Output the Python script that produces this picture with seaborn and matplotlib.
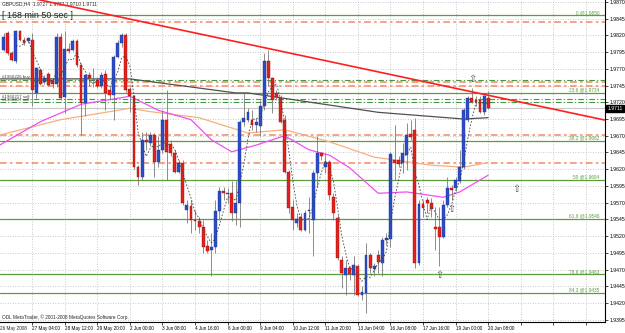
import matplotlib
matplotlib.use("Agg")
import matplotlib.pyplot as plt
import numpy as np
import pandas as pd
import seaborn as sns

# GBPUSD H4 candles, one entry per bar (26 May - 20 Jun 2008)
opens = [1.9798, 1.9823, 1.9793, 1.9781, 1.9826, 1.9813, 1.9811, 1.9813, 1.9734, 1.9768,
         1.9751, 1.9763, 1.9753, 1.9748, 1.9818, 1.9728, 1.9800, 1.9798, 1.9811, 1.9776,
         1.9719, 1.9761, 1.9753, 1.9753, 1.9744, 1.9763, 1.9739, 1.9731, 1.9788, 1.9808,
         1.9821, 1.9740, 1.9729, 1.9624, 1.9609, 1.9664, 1.9659, 1.9671, 1.9631, 1.9649,
         1.9694, 1.9658, 1.9644, 1.9616, 1.9630, 1.9559, 1.9565, 1.9544, 1.9543, 1.9534,
         1.9505, 1.9499, 1.9504, 1.9557, 1.9587, 1.9583, 1.9584, 1.9554, 1.9569, 1.9691,
         1.9694, 1.9694, 1.9686, 1.9684, 1.9714, 1.9781, 1.9756, 1.9734, 1.9726, 1.9694,
         1.9616, 1.9564, 1.9540, 1.9549, 1.9529, 1.9558, 1.9544, 1.9614, 1.9644, 1.9624,
         1.9631, 1.9579, 1.9547, 1.9485, 1.9462, 1.9472, 1.9462, 1.9475, 1.9432, 1.9435,
         1.9492, 1.9471, 1.9492, 1.9480, 1.9514, 1.9515, 1.9634, 1.9634, 1.9629, 1.9641,
         1.9673, 1.9679, 1.9480, 1.9568, 1.9574, 1.9569, 1.9534, 1.9534, 1.9519, 1.9567,
         1.9592, 1.9592, 1.9602, 1.9624, 1.9694, 1.9726, 1.9724, 1.9724, 1.9706, 1.9727]
highs = [1.9823, 1.9826, 1.9796, 1.9828, 1.9828, 1.9818, 1.9818, 1.9823, 1.9773, 1.9771,
         1.9761, 1.9766, 1.9756, 1.9823, 1.9823, 1.9826, 1.9808, 1.9814, 1.9814, 1.9778,
         1.9763, 1.9766, 1.9771, 1.9758, 1.9766, 1.9768, 1.9744, 1.9791, 1.9813, 1.9823,
         1.9823, 1.9743, 1.9731, 1.9626, 1.9676, 1.9676, 1.9675, 1.9674, 1.9669, 1.9709,
         1.9739, 1.9664, 1.9649, 1.9634, 1.9634, 1.9574, 1.9574, 1.9559, 1.9549, 1.9544,
         1.9514, 1.9524, 1.9574, 1.9594, 1.9594, 1.9592, 1.9602, 1.9602, 1.9694, 1.9734,
         1.9711, 1.9709, 1.9696, 1.9724, 1.9793, 1.9798, 1.9758, 1.9739, 1.9731, 1.9701,
         1.9619, 1.9574, 1.9554, 1.9554, 1.9559, 1.9579, 1.9619, 1.9669, 1.9646, 1.9644,
         1.9634, 1.9584, 1.9552, 1.9490, 1.9485, 1.9475, 1.9490, 1.9477, 1.9445, 1.9509,
         1.9494, 1.9480, 1.9499, 1.9519, 1.9524, 1.9646, 1.9686, 1.9639, 1.9659, 1.9689,
         1.9694, 1.9696, 1.9574, 1.9574, 1.9579, 1.9577, 1.9564, 1.9564, 1.9574, 1.9609,
         1.9597, 1.9609, 1.9649, 1.9711, 1.9729, 1.9741, 1.9729, 1.9729, 1.9734, 1.9737]
lows = [1.9796, 1.9791, 1.9781, 1.9779, 1.9811, 1.9806, 1.9808, 1.9714, 1.9726, 1.9746,
        1.9748, 1.9745, 1.9741, 1.9743, 1.9724, 1.9704, 1.9793, 1.9796, 1.9773, 1.9671,
        1.9699, 1.9744, 1.9743, 1.9741, 1.9741, 1.9709, 1.9724, 1.9694, 1.9786, 1.9803,
        1.9736, 1.9706, 1.9621, 1.9597, 1.9604, 1.9649, 1.9654, 1.9609, 1.9624, 1.9644,
        1.9604, 1.9639, 1.9614, 1.9614, 1.9567, 1.9539, 1.9524, 1.9529, 1.9524, 1.9494,
        1.9494, 1.9460, 1.9494, 1.9544, 1.9574, 1.9569, 1.9542, 1.9537, 1.9534, 1.9684,
        1.9691, 1.9679, 1.9676, 1.9669, 1.9709, 1.9744, 1.9704, 1.9724, 1.9689, 1.9614,
        1.9554, 1.9529, 1.9534, 1.9527, 1.9527, 1.9524, 1.9490, 1.9594, 1.9634, 1.9614,
        1.9574, 1.9544, 1.9485, 1.9442, 1.9432, 1.9455, 1.9432, 1.9430, 1.9425, 1.9405,
        1.9465, 1.9460, 1.9465, 1.9460, 1.9507, 1.9504, 1.9604, 1.9624, 1.9614, 1.9619,
        1.9664, 1.9472, 1.9477, 1.9549, 1.9554, 1.9549, 1.9499, 1.9475, 1.9517, 1.9564,
        1.9574, 1.9587, 1.9599, 1.9621, 1.9691, 1.9719, 1.9714, 1.9704, 1.9701, 1.9710]
closes = [1.9818, 1.9793, 1.9783, 1.9826, 1.9813, 1.9809, 1.9816, 1.9739, 1.9771, 1.9748,
          1.9757, 1.9746, 1.9748, 1.9818, 1.9726, 1.9800, 1.9796, 1.9811, 1.9776, 1.9719,
          1.9761, 1.9756, 1.9754, 1.9744, 1.9761, 1.9734, 1.9731, 1.9788, 1.9808, 1.9821,
          1.9739, 1.9729, 1.9624, 1.9609, 1.9664, 1.9660, 1.9671, 1.9631, 1.9649, 1.9694,
          1.9646, 1.9644, 1.9616, 1.9629, 1.9569, 1.9567, 1.9544, 1.9542, 1.9534, 1.9504,
          1.9498, 1.9504, 1.9557, 1.9588, 1.9584, 1.9585, 1.9554, 1.9569, 1.9691, 1.9696,
          1.9706, 1.9686, 1.9691, 1.9714, 1.9781, 1.9756, 1.9724, 1.9728, 1.9691, 1.9616,
          1.9562, 1.9544, 1.9545, 1.9529, 1.9554, 1.9559, 1.9614, 1.9644, 1.9640, 1.9631,
          1.9582, 1.9554, 1.9487, 1.9465, 1.9472, 1.9464, 1.9477, 1.9432, 1.9437, 1.9492,
          1.9472, 1.9475, 1.9481, 1.9514, 1.9517, 1.9643, 1.9629, 1.9628, 1.9644, 1.9671,
          1.9668, 1.9480, 1.9568, 1.9562, 1.9569, 1.9560, 1.9531, 1.9519, 1.9567, 1.9592,
          1.9589, 1.9604, 1.9624, 1.9709, 1.9726, 1.9721, 1.9721, 1.9706, 1.9729, 1.9711]

time_labels = ["27 May 04:00", "28 May 12:00", "29 May 20:00", "2 Jun 00:00", "3 Jun 08:00",
               "4 Jun 16:00", "6 Jun 00:00", "9 Jun 04:00", "10 Jun 12:00", "11 Jun 20:00",
               "13 Jun 04:00", "16 Jun 08:00", "17 Jun 16:00", "19 Jun 00:00", "20 Jun 08:00"]

fib_levels = [1.9850, 1.9734, 1.9662, 1.9604, 1.9546, 1.9463, 1.9435]
fib_names = ["0", "23.6", "38.2", "50", "61.8", "78.6", "84.3"]

order_levels = [1.9754, 1.9725, 1.9720]
order_names = ["#1966226 buy", "#1966217 sell", "#1966227 sell"]
stop_levels = [1.9840, 1.9750, 1.9745, 1.9671, 1.9629]

trend_bars = [5, 148]
trend_prices = [1.9878, 1.9693]

slow_ma_bars = [-1, 31, 57, 60, 92, 113, 119]
slow_ma = [1.9755, 1.9755, 1.9734, 1.9734, 1.9705, 1.9695, 1.9697]
mid_ma_bars = [-1, 14, 31, 36, 48, 60, 69, 80, 91, 105, 113, 119]
mid_ma = [1.9671, 1.9694, 1.9711, 1.9706, 1.9697, 1.9674, 1.9679, 1.9661, 1.9638, 1.9626, 1.9623, 1.9630]
fast_ma_bars = [-1, 9, 19, 31, 38, 46, 51, 56, 62, 69, 75, 80, 85, 92, 99, 108, 112, 119]
fast_ma = [1.9656, 1.9691, 1.9717, 1.9729, 1.9708, 1.9694, 1.9664, 1.9646, 1.9656, 1.9670,
           1.9649, 1.9641, 1.9622, 1.9584, 1.9586, 1.9578, 1.9586, 1.9611]

fractal_bars = [115, 107, 110, 126]
fractal_prices = [1.9755, 1.9462, 1.9561, 1.9590]

bid = 1.9711
header = "GBPUSD,H4  1.9727 1.9737 1.9710 1.9711"

BLUE = "#2c4cc8"
RED = "#e3201c"
GREEN = "#5a9e3e"
SALMON = "#f4926c"

bars = pd.DataFrame({"open": opens, "high": highs, "low": lows, "close": closes})
bars["bar"] = np.arange(len(bars))
up = bars["close"] >= bars["open"]

sns.set_theme(style="white")
plt.rcParams["font.family"] = ["Liberation Sans", "DejaVu Sans"]

fig = plt.figure(figsize=(6.25, 3.33), dpi=100)
ax = fig.add_axes([0, 11 / 333, 605 / 625, 322 / 333])

# levels
for lvl, name in zip(fib_levels, fib_names):
    ax.axhline(lvl, color=GREEN, lw=0.9, zorder=2)
    ax.text(146.3, lvl + 0.00005, f"{name} @{lvl:.4f}", ha="right", va="bottom",
            fontsize=3.4, color=GREEN, zorder=6)
for lvl in order_levels:
    ax.axhline(lvl, color="#3f9a3f", lw=0.8, dashes=(5, 2, 1, 2), zorder=2)
for lvl in stop_levels:
    ax.axhline(lvl, color=SALMON, lw=1.2, dashes=(4, 2, 1.5, 2), zorder=2)
for lvl, name in zip(order_levels, order_names):
    ax.text(-0.3, lvl + 0.00004, name, ha="left", va="bottom", fontsize=3.2,
            color="#404040", zorder=6)
ax.axhline(bid, color="#c8c8c8", lw=0.8, zorder=2)

# indicators
sns.lineplot(x=slow_ma_bars, y=slow_ma, ax=ax, color="#505050", lw=0.9, zorder=3)
sns.lineplot(x=mid_ma_bars, y=mid_ma, ax=ax, color="#f6b07e", lw=0.9, zorder=3)
sns.lineplot(x=fast_ma_bars, y=fast_ma, ax=ax, color="#f050f0", lw=0.9, zorder=3)
ax.plot(bars["bar"], bars["close"].rolling(4).mean(), color="#444444", lw=0.6,
        dashes=(2, 2), zorder=5)

# candles
ax.vlines(bars["bar"], bars["low"], bars["high"], color="#7a7a7a", lw=0.6, zorder=3)
body_low = bars[["open", "close"]].min(axis=1)
body_h = (bars["close"] - bars["open"]).abs().clip(lower=0.00005)
ax.bar(bars["bar"], body_h, bottom=body_low, width=0.7,
       color=np.where(up, BLUE, RED), edgecolor=np.where(up, "#1d3590", "#9c1010"),
       lw=0.3, zorder=4)

sns.lineplot(x=trend_bars, y=trend_prices, ax=ax, color="#ff1f1f", lw=1.2, zorder=5)

for b, p in zip(fractal_bars, fractal_prices):
    ax.text(b, p, "\u21e7", ha="center", va="center", fontsize=7, color="#555555",
            family=["DejaVu Sans"], zorder=6)

# axes
ax.set_xlim(-0.91, 147.7)
ax.set_ylim(1.93916, 1.98729)
price_ticks = np.round(np.arange(1.9395, 1.98701, 0.0025), 4)
ax.yaxis.tick_right()
ax.set_yticks(price_ticks)
ax.set_yticklabels([f"{t:.4f}" for t in price_ticks])
grid_bars = list(range(7, 148, 8))
ax.set_xticks(grid_bars)
ax.set_xticklabels(time_labels + [""] * (len(grid_bars) - len(time_labels)))
for lbl in ax.get_xticklabels():
    lbl.set_ha("left")
ax.tick_params(axis="both", length=2, width=0.5, pad=1, colors="black")
ax.tick_params(axis="y", labelsize=3.7, right=True, left=False)
ax.tick_params(axis="x", labelsize=3.3, bottom=True)
ax.grid(True, ls=(0, (1, 2)), color="#b8b8b8", lw=0.6)
ax.set_axisbelow(True)
for side in ["top", "left"]:
    ax.spines[side].set_visible(False)
for side in ["right", "bottom"]:
    ax.spines[side].set_color("black")
    ax.spines[side].set_linewidth(0.8)
ax.set_xlabel("")
ax.set_ylabel("")

ax.text(-0.91, -0.012, "26 May 2008", transform=ax.get_xaxis_transform(), ha="left",
        va="top", fontsize=3.3, clip_on=False)
ax.text(1.004, bid, f"{bid:.4f}", transform=ax.get_yaxis_transform(), ha="left",
        va="center", fontsize=3.7, color="white", clip_on=False,
        bbox=dict(boxstyle="square,pad=0.25", fc="black", ec="black"))
ax.text(0.004, 0.997, header, transform=ax.transAxes, ha="left", va="top", fontsize=3.5)
ax.text(0.004, 0.952, "[ 168 min 50 sec ]", transform=ax.transAxes, ha="left",
        va="center", fontsize=6.4)
ax.text(0.004, 0.006, "ODL MetaTrader, \u00a9 2001-2008 MetaQuotes Software Corp.",
        transform=ax.transAxes, ha="left", va="bottom", fontsize=3.4)

fig.savefig("out.png", dpi=100)
